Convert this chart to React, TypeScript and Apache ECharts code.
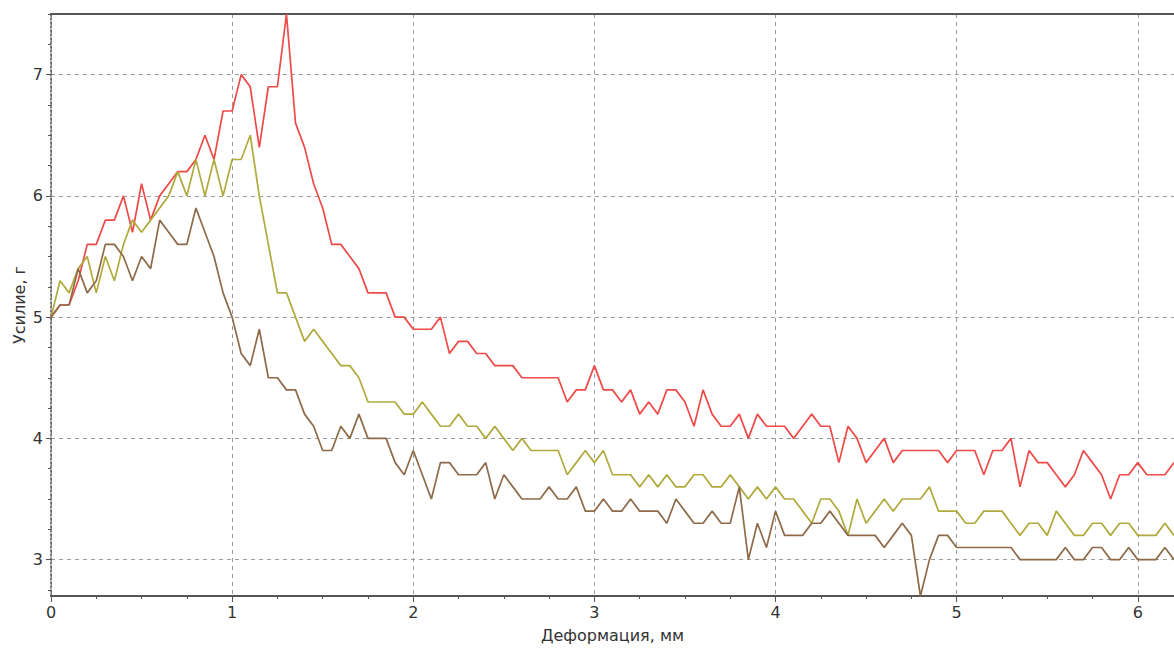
import React, { useEffect, useRef } from "react";
import * as echarts from "echarts";

// Deformation, mm (x values)
const deformation = [
  0, 0.05, 0.1, 0.15, 0.2, 0.25, 0.3, 0.35, 0.4, 0.45,
  0.5, 0.55, 0.6, 0.65, 0.7, 0.75, 0.8, 0.85, 0.9, 0.95,
  1.0, 1.05, 1.1, 1.15, 1.2, 1.25, 1.3, 1.35, 1.4, 1.45,
  1.5, 1.55, 1.6, 1.65, 1.7, 1.75, 1.8, 1.85, 1.9, 1.95,
  2.0, 2.05, 2.1, 2.15, 2.2, 2.25, 2.3, 2.35, 2.4, 2.45,
  2.5, 2.55, 2.6, 2.65, 2.7, 2.75, 2.8, 2.85, 2.9, 2.95,
  3.0, 3.05, 3.1, 3.15, 3.2, 3.25, 3.3, 3.35, 3.4, 3.45,
  3.5, 3.55, 3.6, 3.65, 3.7, 3.75, 3.8, 3.85, 3.9, 3.95,
  4.0, 4.05, 4.1, 4.15, 4.2, 4.25, 4.3, 4.35, 4.4, 4.45,
  4.5, 4.55, 4.6, 4.65, 4.7, 4.75, 4.8, 4.85, 4.9, 4.95,
  5.0, 5.05, 5.1, 5.15, 5.2, 5.25, 5.3, 5.35, 5.4, 5.45,
  5.5, 5.55, 5.6, 5.65, 5.7, 5.75, 5.8, 5.85, 5.9, 5.95,
  6.0, 6.05, 6.1, 6.15, 6.2,
];

// Force, g — red curve
const forceRed = [
  5.0, 5.1, 5.1, 5.3, 5.6, 5.6, 5.8, 5.8, 6.0, 5.7,
  6.1, 5.8, 6.0, 6.1, 6.2, 6.2, 6.3, 6.5, 6.3, 6.7,
  6.7, 7.0, 6.9, 6.4, 6.9, 6.9, 7.5, 6.6, 6.4, 6.1,
  5.9, 5.6, 5.6, 5.5, 5.4, 5.2, 5.2, 5.2, 5.0, 5.0,
  4.9, 4.9, 4.9, 5.0, 4.7, 4.8, 4.8, 4.7, 4.7, 4.6,
  4.6, 4.6, 4.5, 4.5, 4.5, 4.5, 4.5, 4.3, 4.4, 4.4,
  4.6, 4.4, 4.4, 4.3, 4.4, 4.2, 4.3, 4.2, 4.4, 4.4,
  4.3, 4.1, 4.4, 4.2, 4.1, 4.1, 4.2, 4.0, 4.2, 4.1,
  4.1, 4.1, 4.0, 4.1, 4.2, 4.1, 4.1, 3.8, 4.1, 4.0,
  3.8, 3.9, 4.0, 3.8, 3.9, 3.9, 3.9, 3.9, 3.9, 3.8,
  3.9, 3.9, 3.9, 3.7, 3.9, 3.9, 4.0, 3.6, 3.9, 3.8,
  3.8, 3.7, 3.6, 3.7, 3.9, 3.8, 3.7, 3.5, 3.7, 3.7,
  3.8, 3.7, 3.7, 3.7, 3.8,
];

// Force, g — olive curve
const forceOlive = [
  5.0, 5.3, 5.2, 5.4, 5.5, 5.2, 5.5, 5.3, 5.6, 5.8,
  5.7, 5.8, 5.9, 6.0, 6.2, 6.0, 6.3, 6.0, 6.3, 6.0,
  6.3, 6.3, 6.5, 6.0, 5.6, 5.2, 5.2, 5.0, 4.8, 4.9,
  4.8, 4.7, 4.6, 4.6, 4.5, 4.3, 4.3, 4.3, 4.3, 4.2,
  4.2, 4.3, 4.2, 4.1, 4.1, 4.2, 4.1, 4.1, 4.0, 4.1,
  4.0, 3.9, 4.0, 3.9, 3.9, 3.9, 3.9, 3.7, 3.8, 3.9,
  3.8, 3.9, 3.7, 3.7, 3.7, 3.6, 3.7, 3.6, 3.7, 3.6,
  3.6, 3.7, 3.7, 3.6, 3.6, 3.7, 3.6, 3.5, 3.6, 3.5,
  3.6, 3.5, 3.5, 3.4, 3.3, 3.5, 3.5, 3.4, 3.2, 3.5,
  3.3, 3.4, 3.5, 3.4, 3.5, 3.5, 3.5, 3.6, 3.4, 3.4,
  3.4, 3.3, 3.3, 3.4, 3.4, 3.4, 3.3, 3.2, 3.3, 3.3,
  3.2, 3.4, 3.3, 3.2, 3.2, 3.3, 3.3, 3.2, 3.3, 3.3,
  3.2, 3.2, 3.2, 3.3, 3.2,
];

// Force, g — brown curve
const forceBrown = [
  5.0, 5.1, 5.1, 5.4, 5.2, 5.3, 5.6, 5.6, 5.5, 5.3,
  5.5, 5.4, 5.8, 5.7, 5.6, 5.6, 5.9, 5.7, 5.5, 5.2,
  5.0, 4.7, 4.6, 4.9, 4.5, 4.5, 4.4, 4.4, 4.2, 4.1,
  3.9, 3.9, 4.1, 4.0, 4.2, 4.0, 4.0, 4.0, 3.8, 3.7,
  3.9, 3.7, 3.5, 3.8, 3.8, 3.7, 3.7, 3.7, 3.8, 3.5,
  3.7, 3.6, 3.5, 3.5, 3.5, 3.6, 3.5, 3.5, 3.6, 3.4,
  3.4, 3.5, 3.4, 3.4, 3.5, 3.4, 3.4, 3.4, 3.3, 3.5,
  3.4, 3.3, 3.3, 3.4, 3.3, 3.3, 3.6, 3.0, 3.3, 3.1,
  3.4, 3.2, 3.2, 3.2, 3.3, 3.3, 3.4, 3.3, 3.2, 3.2,
  3.2, 3.2, 3.1, 3.2, 3.3, 3.2, 2.7, 3.0, 3.2, 3.2,
  3.1, 3.1, 3.1, 3.1, 3.1, 3.1, 3.1, 3.0, 3.0, 3.0,
  3.0, 3.0, 3.1, 3.0, 3.0, 3.1, 3.1, 3.0, 3.0, 3.1,
  3.0, 3.0, 3.0, 3.1, 3.0,
];

// Y-axis tick values (major labelled ticks, and minor ticks every 0.25)
const yMajorTicks = [3, 4, 5, 6, 7];
const yMinorTicks = [
  2.75, 3.25, 3.5, 3.75, 4.25, 4.5, 4.75, 5.25, 5.5, 5.75,
  6.25, 6.5, 6.75, 7.25, 7.5,
];

const xTitle = "Деформация, мм";
const yTitle = "Усилие, г";

const FONT = "DejaVu Sans";

export default function App() {
  const ref = useRef<HTMLDivElement>(null);

  useEffect(() => {
    if (!ref.current) return;
    const chart = echarts.init(ref.current, undefined, { renderer: "svg" });

    const toPairs = (ys: number[]) => deformation.map((x, i) => [x, ys[i]]);
    const gridDash = { color: "#9a9a9a", width: 1, type: [4, 4] as number[] };
    const labelStyle = { color: "#333", fontSize: 16, fontFamily: FONT };

    chart.setOption({
      animation: false,
      backgroundColor: "#fff",
      grid: { left: 51, right: 0, top: 14, bottom: 52, outerBoundsMode: "none" },
      xAxis: [
        {
          type: "value",
          min: 0,
          max: 6.2,
          interval: 1,
          axisLine: { show: true, lineStyle: { color: "#555", width: 2 } },
          axisTick: { show: true, length: 6, lineStyle: { color: "#555" } },
          minorTick: { show: true, splitNumber: 4, length: 3, lineStyle: { color: "#555" } },
          axisLabel: { ...labelStyle, margin: 8, showMaxLabel: false },
          splitLine: { show: true, lineStyle: gridDash },
          name: xTitle,
          nameLocation: "middle",
          nameGap: 31,
          nameMoveOverlap: false,
          nameTextStyle: { color: "#333", fontSize: 16, fontFamily: FONT },
        },
        {
          type: "value",
          position: "top",
          min: 0,
          max: 6.2,
          axisLine: { show: true, lineStyle: { color: "#555", width: 2 } },
          axisTick: { show: false },
          axisLabel: { show: false },
          splitLine: { show: false },
        },
      ],
      yAxis: [
        {
          type: "value",
          min: 2.7,
          max: 7.5,
          axisLine: { show: true, lineStyle: { color: "#555", width: 1.5, type: [2, 2] } },
          axisTick: { show: true, length: 5, lineStyle: { color: "#555" }, customValues: yMajorTicks },
          axisLabel: { ...labelStyle, margin: 8, customValues: yMajorTicks },
          splitLine: { show: true, lineStyle: gridDash },
          name: yTitle,
          nameLocation: "middle",
          nameGap: 24,
          nameMoveOverlap: false,
          nameTextStyle: { color: "#333", fontSize: 16, fontFamily: FONT },
        },
        {
          type: "value",
          position: "left",
          min: 2.7,
          max: 7.5,
          axisLine: { show: false },
          axisTick: { show: true, length: 3, lineStyle: { color: "#555" }, customValues: yMinorTicks },
          axisLabel: { show: false },
          splitLine: { show: false },
        },
      ],
      series: [
        {
          type: "line",
          data: toPairs(forceRed),
          symbol: "none",
          lineStyle: { color: "#ee4a47", width: 1.7 },
        },
        {
          type: "line",
          data: toPairs(forceOlive),
          symbol: "none",
          lineStyle: { color: "#b0aa3c", width: 1.7 },
        },
        {
          type: "line",
          data: toPairs(forceBrown),
          symbol: "none",
          lineStyle: { color: "#8e6a48", width: 1.7 },
        },
      ],
    });

    return () => chart.dispose();
  }, []);

  return (
    <div
      ref={ref}
      style={{ position: "absolute", left: 0, top: 0, width: 1174, height: 648, background: "#fff" }}
    />
  );
}
